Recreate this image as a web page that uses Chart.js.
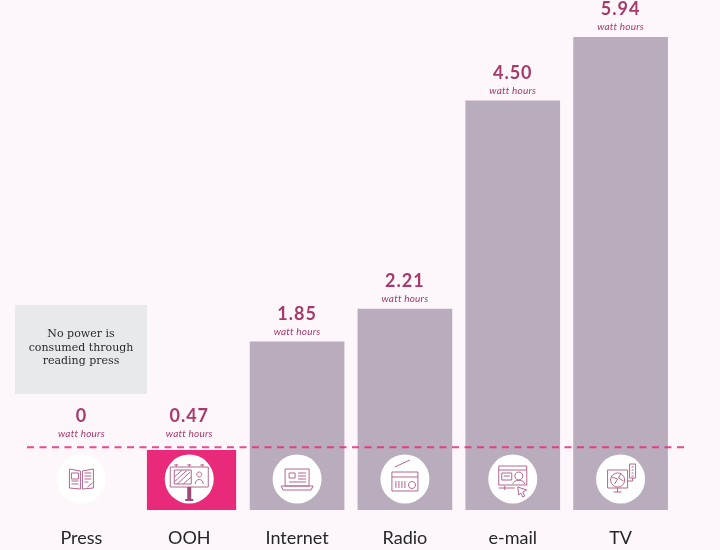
<!DOCTYPE html>
<html>
<head>
<meta charset="utf-8">
<title>Power use by media</title>
<script src="https://cdn.jsdelivr.net/npm/chart.js@4/dist/chart.umd.min.js"></script>
<style>
  html, body { margin: 0; padding: 0; background: #fdf7fc; }
  canvas { display: block; }
</style>
</head>
<body>
<canvas id="chart" width="720" height="550"></canvas>
<script>
const categories = ['Press', 'OOH', 'Internet', 'Radio', 'e-mail', 'TV'];
// printed figures
const valueLabels = ['0', '0.47', '1.85', '2.21', '4.50', '5.94'];
// drawn heights in watt hours: the source does not draw OOH and TV to the printed figure
const barHeights = [0, 0.66, 1.85, 2.21, 4.5, 5.2];
const unitLabel = 'watt hours';
const noteLines = ['No power is', 'consumed through', 'reading press'];
const dashedLevel = 0.69;

const PAGE = '#fdf7fc';
const BAR = '#b9acbd';
const PINK = '#e92a7a';
const WINE = '#a63a6b';
const ICON = '#b5668f';

const SANS = 'Lato, sans-serif';

// icons, drawn around (0,0)
const iconPaths = {
    Press: [
        'M-12 -10 L-1 -8 L-1 10 L-12 9 Z', 'M12 -10 L1 -8 L1 10 L12 9 Z',
        'M-10 -6 h7 v6 h-7 Z', 'M-10 2 h7 M-10 5 h7', 'M3 -6 h7 M3 -3 h7 M3 0 h7 M3 3 h4 M6 8 l5 -4'
    ],
    OOH: [
        'M-19 -12 H19 V8 H-19 Z', 'M-13 -12 V-15 M-15 -14 h4 M0 -12 V-15 M-2 -14 h4 M13 -12 V-15 M11 -14 h4',
        'M-15 -2 L-7 -9 M-15 3 L-2 -9 M-12 5 L1 -7 M-6 5 L2 -2', 'M-15 -9 H2 V5 H-15 Z',
        'M6 5 C6 -1 14 -1 14 5 M10 -7 a2.5 2.5 0 1 0 0.1 0'
    ],
    Internet: [
        'M-12 -10 H12 V7 H-12 Z', 'M-16 7 H16 L14 11 H-14 Z', 'M-8 -6 h6 v5 h-6 Z',
        'M1 -6 h8 M1 -3 h8 M1 0 h8 M-8 3 h17'
    ],
    Radio: [
        'M-13 -7 H13 V12 H-13 Z', 'M-13 -2 H13', 'M-10 -12 L5 -19',
        'M-9 2 V9 M-6 2 V9 M-3 2 V9 M0 2 V9', 'M7 2.5 a3.5 3.5 0 1 0 0.1 0'
    ],
    'e-mail': [
        'M-14 -13 H14 V6 H-14 Z', 'M-14 -9 H14', 'M-11 -6 h10 v7 h-10 Z M-9 -3 h6',
        'M-14 9 H2 M-8 7 v4', 'M6 -7 a4 4 0 1 0 0.1 0 M0 5 C1 0 11 0 12 5',
        'M5 8 L14 11 L10 13 L12 17 L10 18 L8 14 L6 16 Z'
    ],
    TV: [
        'M-13 -9 H7 V9 H-13 Z', 'M-3 9 V13 M-7 13 H1', 'M-3 -6 a7 7 0 1 0 0.1 0 M-9 -2 L-3 0 L-6 5 M0 -5 L-2 -1 L3 2',
        'M9 -15 H15 V-1 H9 Z', 'M11 -12 h2 M11 -9 h2 M11 -6 h2 M11 -3 h2', 'M7 2 H12 V-1'
    ]
};

const furniture = {
    id: 'furniture',
    beforeDatasetsDraw(chart) {
        const ctx = chart.ctx;
        // grey note above the Press column
        ctx.save();
        ctx.fillStyle = '#e8e9eb';
        ctx.fillRect(15, 305, 132, 89);
        ctx.fillStyle = '#2b2b2b';
        ctx.font = '11px "DejaVu Serif", serif';
        ctx.textAlign = 'center';
        ctx.textBaseline = 'middle';
        noteLines.forEach((line, i) => ctx.fillText(line, 81, 334.5 + i * 13.4));
        ctx.restore();
    },
    afterDatasetsDraw(chart) {
        const ctx = chart.ctx;
        const bars = chart.getDatasetMeta(0).data;
        const dashY = chart.scales.y.getPixelForValue(dashedLevel);
        const iconY = chart.scales.y.getPixelForValue(0) - 31;

        ctx.save();
        ctx.strokeStyle = PINK;
        ctx.globalAlpha = 0.85;
        ctx.lineWidth = 2;
        ctx.setLineDash([7, 5.5]);
        ctx.beginPath();
        ctx.moveTo(27, dashY);
        ctx.lineTo(688, dashY);
        ctx.stroke();
        ctx.restore();

        bars.forEach((bar, i) => {
            // circle and icon
            ctx.save();
            ctx.fillStyle = '#ffffff';
            ctx.beginPath();
            ctx.arc(bar.x, iconY, 24.5, 0, Math.PI * 2);
            ctx.fill();
            ctx.translate(bar.x, iconY);
            ctx.strokeStyle = ICON;
            ctx.lineWidth = 1;
            iconPaths[categories[i]].forEach(d => ctx.stroke(new Path2D(d)));
            if (categories[i] === 'OOH') {
                ctx.fillStyle = '#9c4a78';
                ctx.fillRect(-2, 8, 4, 14);
                ctx.fillRect(-4, 20, 8, 2);
            }
            ctx.restore();

            // printed value and unit
            const unitY = Math.min(bar.y - 10.5, dashY - 13.5);
            ctx.save();
            ctx.fillStyle = WINE;
            ctx.textAlign = 'center';
            ctx.textBaseline = 'middle';
            ctx.font = 'bold 18px ' + SANS;
            ctx.letterSpacing = '1px';
            ctx.fillText(valueLabels[i], bar.x, unitY - 17.5);
            ctx.font = 'italic 10px ' + SANS;
            ctx.letterSpacing = '0.2px';
            ctx.fillText(unitLabel, bar.x, unitY);
            ctx.restore();
        });
    }
};

new Chart(document.getElementById('chart'), {
    type: 'bar',
    data: {
        labels: categories,
        datasets: [{
            data: barHeights,
            barThickness: 94,
            backgroundColor: ctx => ctx.dataIndex === 0 ? 'transparent' : ctx.dataIndex === 1 ? PINK : BAR,
            borderColor: PAGE,
            borderSkipped: false,
            // OOH is narrower than the other columns
            borderWidth: ctx => ctx.dataIndex === 1 ? { left: 5, right: 0, top: 0, bottom: 0 } : 0
        }]
    },
    options: {
        responsive: false,
        animation: false,
        layout: { padding: { left: 27.5, right: 45.5, top: 0, bottom: 0 } },
        plugins: { legend: { display: false }, tooltip: { enabled: false } },
        scales: {
            x: {
                grid: { display: false },
                border: { display: false },
                afterFit(scale) { scale.height = 40; },
                ticks: {
                    color: '#262626',
                    padding: 9,
                    autoSkip: false,
                    maxRotation: 0,
                    font: { family: SANS, size: 18 }
                }
            },
            y: { display: false, min: 0, max: 5.61 }
        }
    },
    plugins: [furniture]
});
</script>
</body>
</html>
